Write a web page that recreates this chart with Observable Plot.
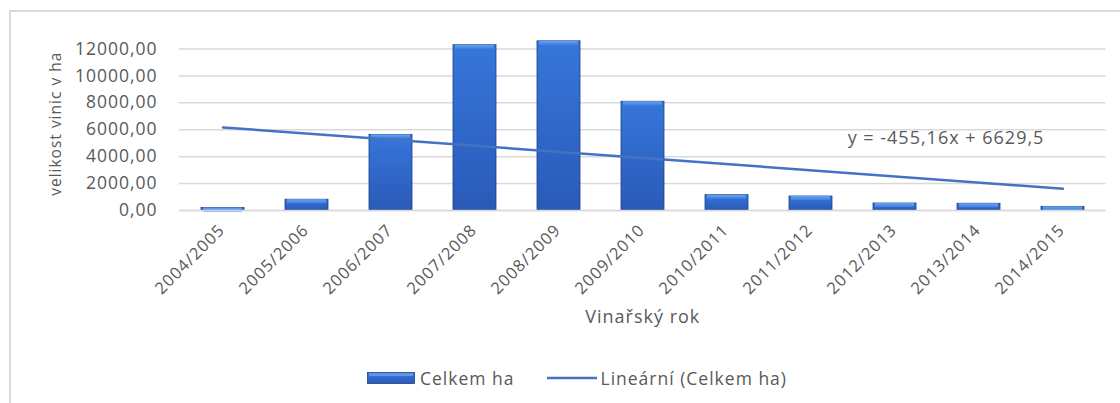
<!DOCTYPE html>
<html><head><meta charset="utf-8">
<script src="https://cdn.jsdelivr.net/npm/d3@7"></script>
<script src="https://cdn.jsdelivr.net/npm/@observablehq/plot@0.6"></script>
<style>
body{margin:0;background:#fff;font-family:"Open Sans",sans-serif;overflow:hidden;}
#frame{position:absolute;left:9px;top:10px;width:1300px;height:600px;border:2px solid #d9d9d9;box-sizing:border-box;}
#chart{position:absolute;left:0;top:0;}
#chart svg text{letter-spacing:1px;}
#legend{position:absolute;left:367px;top:366px;display:flex;align-items:center;font-size:17.5px;letter-spacing:1px;color:#595959;white-space:nowrap;}
#legend .item{display:flex;align-items:center;}
</style></head><body>
<div id="frame"></div>
<div id="chart"></div>
<div id="legend"></div>
<script>
const seasons = ["2004/2005","2005/2006","2006/2007","2007/2008","2008/2009","2009/2010","2010/2011","2011/2012","2012/2013","2013/2014","2014/2015"];
const hectares = [180, 800, 5620, 12280, 12570, 8080, 1140, 1040, 520, 500, 270];
const yTicks = [0, 2000, 4000, 6000, 8000, 10000, 12000];
const trendSlope = -455.16;
const trendIntercept = 6629.5;
const trendLabel = "y = -455,16x + 6629,5";
const xTitle = "Vinařský rok";
const yTitle = "velikost vinic v ha";
const seriesName = "Celkem ha";
const trendName = "Lineární (Celkem ha)";

const data = seasons.map((s, i) => ({season: s, ha: hectares[i]}));
const trend = [0, seasons.length - 1].map(i => ({season: seasons[i], ha: trendIntercept + trendSlope * (i + 1)}));

const textColor = "#595959";
const chart = Plot.plot({
  width: 1120, height: 345,
  marginLeft: 179, marginRight: 14.5, marginTop: 48.5, marginBottom: 135,
  style: {fontFamily: '"Open Sans", sans-serif', fontSize: "17px", color: textColor, background: "transparent", overflow: "visible"},
  x: {domain: seasons, paddingInner: 0.49, paddingOuter: 0.245, label: null},
  y: {domain: [0, 12000], label: null},
  marks: [
    Plot.gridY(yTicks, {stroke: "#d9d9d9", strokeOpacity: 1, strokeWidth: 1.5}),
    Plot.barY(data, {x: "season", y: "ha", fill: "url(#barGrad)", stroke: "#1d3f85", strokeWidth: 0.8}),
    Plot.barY(data, {x: "season", y1: "ha", y2: "ha", insetBottom: -4, insetLeft: 2, insetRight: 2, fill: "url(#bevelGrad)"}),
    Plot.ruleY([0], {stroke: "#d9d9d9", strokeWidth: 1.5}),
    Plot.line(trend, {x: "season", y: "ha", stroke: "#4472c4", strokeWidth: 2.5}),
    Plot.axisY(yTicks, {tickSize: 0, tickPadding: 22, tickFormat: d => d.toFixed(2).replace(".", ","), label: null, fontSize: 17.5, fill: textColor}),
    Plot.axisX({tickSize: 0, tickRotate: -45, tickPadding: 17, dx: -1, label: null, fontSize: 16.5, fill: textColor}),
    Plot.text([yTitle], {text: d => d, frameAnchor: "left", textAnchor: "middle", rotate: -90, dx: -123, dy: -6, fontSize: 15.5, fill: textColor}),
    Plot.text([xTitle], {text: d => d, frameAnchor: "bottom", textAnchor: "middle", dy: 112, fontSize: 18, fill: textColor}),
    Plot.text([trendLabel], {text: d => d, frameAnchor: "right", textAnchor: "middle", dx: -160, dy: 8, fontSize: 18, fill: textColor})
  ]
});

const ns = "http://www.w3.org/2000/svg";
const defs = document.createElementNS(ns, "defs");
defs.innerHTML = `
<linearGradient id="barGrad" x1="0" y1="0" x2="0" y2="1">
  <stop offset="0" stop-color="#3676da"/>
  <stop offset="1" stop-color="#2a5ab8"/>
</linearGradient>
<linearGradient id="bevelGrad" x1="0" y1="0" x2="0" y2="1">
  <stop offset="0" stop-color="#6aa2f0"/>
  <stop offset="1" stop-color="#3f80e0"/>
</linearGradient>`;
chart.insertBefore(defs, chart.firstChild);
document.getElementById("chart").appendChild(chart);

document.getElementById("legend").innerHTML = `
<div class="item"><svg width="48" height="12" style="margin-right:5px"><rect x="0.5" y="0.5" width="47" height="11" fill="url(#barGradL)" stroke="#1d3f85" stroke-width="0.8"/><defs><linearGradient id="barGradL" x1="0" y1="0" x2="0" y2="1"><stop offset="0" stop-color="#3676da"/><stop offset="1" stop-color="#2a5ab8"/></linearGradient></defs><rect x="2" y="1" width="44" height="3" fill="#5b95ea"/></svg><span>${seriesName}</span></div>
<div class="item" style="margin-left:32px"><svg width="50" height="12" style="margin-right:4px"><line x1="0" x2="50" y1="6" y2="6" stroke="#4472c4" stroke-width="2.5"/></svg><span>${trendName}</span></div>`;
</script>
</body></html>
